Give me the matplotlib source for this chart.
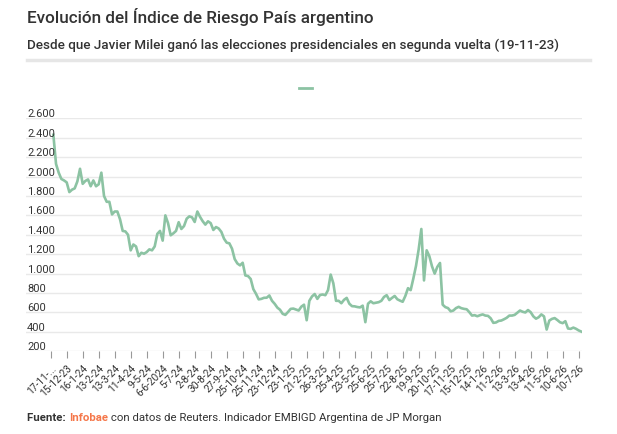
import numpy as np
import matplotlib
matplotlib.use("Agg")
import matplotlib.pyplot as plt
import matplotlib.transforms as mtransforms

plt.rcParams['font.family'] = ['Roboto', 'DejaVu Sans']

# Riesgo País (puntos básicos), lectura del gráfico
riesgo = [
    2430, 2130, 2040, 1975, 1960, 1940, 1840, 1865, 1878, 1950,
    2080, 1925, 1955, 1970, 1900, 1960, 1900, 1920, 2040, 1800,
    1740, 1740, 1610, 1640, 1640, 1560, 1440, 1435, 1400, 1240,
    1300, 1280, 1180, 1215, 1205, 1222, 1250, 1240, 1280, 1410,
    1440, 1340, 1600, 1520, 1395, 1415, 1440, 1530, 1460, 1490,
    1566, 1590, 1580, 1532, 1640, 1585, 1540, 1505, 1539, 1520,
    1450, 1480, 1465, 1430, 1360, 1319, 1312, 1257, 1150, 1105,
    1085, 1112, 981, 975, 945, 840, 792, 735, 740, 751,
    752, 775, 720, 689, 650, 628, 586, 575, 605, 637,
    640, 630, 620, 660, 680, 520, 720, 765, 790, 740,
    780, 785, 778, 830, 990, 900, 720, 720, 695, 730,
    750, 690, 665, 663, 656, 652, 670, 500, 690, 715,
    695, 700, 706, 720, 760, 778, 728, 750, 770, 736,
    722, 710, 770, 850, 830, 950, 1080, 1250, 1460, 930,
    1240, 1180, 1075, 1000, 1070, 1110, 680, 655, 645, 612,
    620, 645, 658, 644, 637, 633, 603, 568, 572, 561,
    572, 580, 568, 565, 540, 493, 497, 513, 517, 530,
    545, 568, 568, 575, 597, 620, 607, 600, 625, 603,
    560, 536, 551, 580, 560, 424, 517, 534, 542, 522,
    499, 490, 510, 435, 431, 444, 432, 415, 403,
]

fechas = [
    "17-11-...", "15-12-23", "16-1-24", "13-2-24", "13-3-24", "11-4-24",
    "9-5-24", "6-6-2024", "5-7-24", "2-8-24", "30-8-24", "27-9-24",
    "25-10-24", "25-11-24", "23-12-24", "23-1-25", "21-2-25", "26-3-25",
    "25-4-25", "23-5-25", "25-6-25", "25-7-25", "22-8-25", "19-9-25",
    "20-10-25", "17-11-25", "15-12-25", "14-1-26", "11-2-26", "13-3-26",
    "13-4-26", "11-5-26", "10-6-26", "10-7-26",
]

y_ticks = list(range(200, 2601, 200))

W, H = 617, 435
fig = plt.figure(figsize=(W / 100, H / 100), dpi=100)
ax = fig.add_axes([26 / W, 1 - 352.3 / H, 556 / W, (352.3 - 119.3) / H])

green = '#8cc3a3'
txt = '#333333'

x = np.arange(1, len(riesgo) + 1)
ax.plot(x, riesgo, color=green, lw=1.9, solid_joinstyle='round')

ax.set_xlim(-9.26, 199.25)
ax.set_ylim(200, 2600)
ax.set_yticks(y_ticks)
ax.set_yticklabels([])
ax.tick_params(axis='y', length=0)
ax.grid(axis='y', color='#e9e9e9', lw=1)
ax.set_axisbelow(True)
for s in ax.spines.values():
    s.set_visible(False)

trans = mtransforms.blended_transform_factory(ax.transAxes, ax.transData)
for v in y_ticks:
    lab = f"{v:,}".replace(",", ".")
    ax.text(0.002, v, lab, transform=trans, ha='left', va='bottom',
            fontsize=8, color=txt)

ax.set_xticks(np.arange(len(fechas)) * 6)
ax.set_xticklabels(fechas, rotation=45, ha='right', rotation_mode='anchor',
                   fontsize=7.3, color=txt)
ax.tick_params(axis='x', length=5, width=0.8, color='#999999', pad=3)

# cabecera
fig.text(27 / W, 1 - 17 / H, "Evolución del Índice de Riesgo País argentino",
         fontsize=12.3, fontweight='medium', color=txt, va='center')
fig.text(27 / W, 1 - 45 / H,
         "Desde que Javier Milei ganó las elecciones presidenciales en segunda vuelta (19-11-23)",
         fontsize=9.7, fontweight='medium', color=txt, va='center')
fig.add_artist(plt.Line2D([27 / W, 590 / W], [1 - 61 / H, 1 - 61 / H],
                          color='#e6e6e6', lw=2.5))
fig.add_artist(plt.Line2D([299 / W, 311.5 / W], [1 - 89 / H, 1 - 89 / H],
                          color=green, lw=2))

# pie
fig.canvas.draw()
r = fig.canvas.get_renderer()
xpos = 27
for s, w, c in [("Fuente: ", 'bold', txt), ("Infobae", 'bold', '#f5774a'),
                (" con datos de Reuters. Indicador EMBIGD Argentina de JP Morgan", 'normal', txt)]:
    t = fig.text(xpos / W, 1 - 418 / H, s, fontsize=8.2, fontweight=w, color=c, va='center')
    xpos += t.get_window_extent(r).width

fig.savefig("out.png", dpi=100)
